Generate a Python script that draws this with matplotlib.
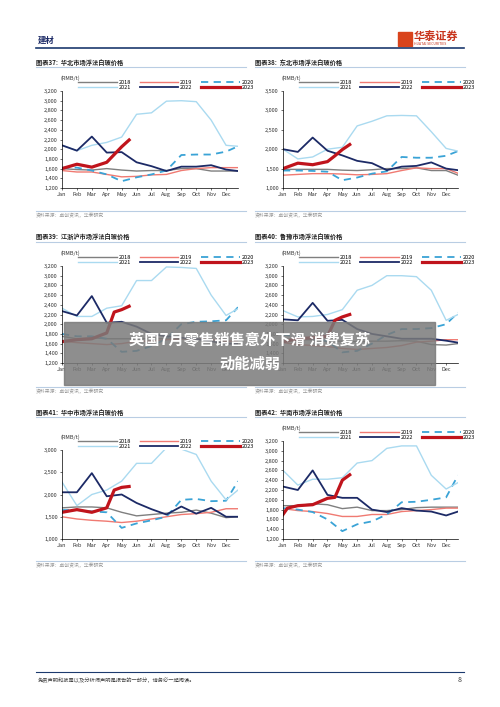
import matplotlib
matplotlib.use("Agg")
import matplotlib.pyplot as plt
from matplotlib.patches import Rectangle

plt.rcParams['font.family'] = ['Noto Sans CJK SC', 'DejaVu Sans']

months = ["Jan","Feb","Mar","Apr","May","Jun","Jul","Aug","Sep","Oct","Nov","Dec"]
x_full = [0,1,2,3,4,5,6,7,8,9,10,11,11.8]
years = ["2018","2019","2020","2021","2022","2023"]

titles = ["图表37:  华北市场浮法白玻价格", "图表38:  东北市场浮法白玻价格",
          "图表39:  江浙沪市场浮法白玻价格", "图表40:  鲁豫市场浮法白玻价格",
          "图表41:  华中市场浮法白玻价格", "图表42:  华南市场浮法白玻价格"]

north = {
 "2018":[1600,1580,1570,1600,1570,1550,1560,1560,1600,1600,1550,1550,1550],
 "2019":[1560,1530,1530,1480,1430,1440,1470,1480,1560,1600,1620,1620,1620],
 "2020":[1620,1620,1560,1480,1340,1420,1480,1560,1880,1890,1890,1950,2060],
 "2021":[2080,1970,2080,2140,2250,2720,2750,2990,3000,2980,2600,2080,2060],
 "2022":[2080,1970,2260,1930,1940,1730,1650,1550,1640,1640,1670,1580,1550],
}
north_2023 = ([0,1,2,3,4,4.5],[1600,1690,1630,1730,2050,2190])
northeast = {
 "2018":[1480,1480,1480,1480,1460,1450,1470,1500,1500,1520,1450,1450,1330],
 "2019":[1330,1350,1370,1370,1360,1340,1350,1370,1450,1520,1500,1500,1380],
 "2020":[1450,1450,1440,1420,1200,1270,1370,1430,1800,1780,1780,1830,1950],
 "2021":[2000,1750,1800,2000,2050,2600,2720,2860,2870,2860,2450,2020,1950],
 "2022":[2000,1930,2300,1960,1840,1700,1640,1460,1550,1570,1660,1500,1460],
}
northeast_2023 = ([0,0.5,1,2,3,3.5,4,4.5],[1500,1570,1640,1600,1680,1830,1990,2120])
jzh = {
 "2018":[1750,1700,1720,1700,1700,1700,1700,1700,1700,1700,1650,1600,1600],
 "2019":[1650,1620,1600,1580,1600,1650,1650,1680,1700,1700,1680,1650,1650],
 "2020":[1800,1750,1750,1700,1430,1450,1550,1700,2000,2050,2060,2080,2350],
 "2021":[2330,2160,2160,2330,2380,2900,2900,3180,3170,3150,2600,2180,2320],
 "2022":[2270,2180,2580,2030,2050,1950,1800,1750,1720,1700,1650,1600,1600],
}
jzh_2023 = ([0,1,2,3,3.5,4,4.5],[1640,1680,1700,1820,2250,2300,2370])
luyu = {
 "2018":[1700,1680,1680,1650,1650,1640,1650,1650,1660,1650,1580,1570,1600],
 "2019":[1620,1580,1560,1540,1500,1480,1500,1520,1560,1630,1650,1680,1680],
 "2020":[1780,1750,1700,1650,1420,1450,1600,1780,1900,1900,1920,2000,2240],
 "2021":[2280,2150,2160,2200,2300,2700,2800,3000,3000,2980,2700,2080,2200],
 "2022":[2100,2080,2440,2070,2090,1900,1800,1750,1700,1700,1700,1660,1620],
}
luyu_2023 = ([0,1,2,3,3.5,4,4.5],[1640,1700,1720,1750,2080,2150,2200])
central = {
 "2018":[1700,1720,1720,1700,1600,1520,1550,1580,1600,1650,1580,1480,1500],
 "2019":[1500,1450,1420,1400,1370,1400,1450,1500,1550,1570,1600,1680,1680],
 "2020":[1650,1650,1620,1600,1250,1350,1420,1500,1880,1900,1850,1860,2300],
 "2021":[2280,1750,2000,2100,2300,2700,2700,3050,3020,2900,2300,1880,2100],
 "2022":[2050,2050,2480,1960,2000,1810,1670,1550,1730,1570,1700,1500,1500],
}
central_2023 = ([0,1,2,3,3.5,4,4.5],[1600,1660,1600,1700,2100,2160,2180])
south = {
 "2018":[1880,1880,1920,1900,1820,1850,1780,1780,1800,1840,1850,1850,1850],
 "2019":[1820,1780,1760,1720,1660,1660,1700,1700,1760,1780,1800,1830,1830],
 "2020":[1830,1800,1750,1600,1360,1500,1560,1700,1950,1960,2000,2050,2500],
 "2021":[2600,2300,2420,2420,2450,2750,2800,3050,3100,3100,2500,2220,2350],
 "2022":[2270,2200,2600,2100,2040,2040,1800,1750,1830,1780,1760,1680,1760],
}
south_2023 = ([0,0.3,1,2,3,3.5,4,4.5],[1700,1830,1880,1900,2030,2050,2400,2510])

datasets = [(north, north_2023), (northeast, northeast_2023), (jzh, jzh_2023),
            (luyu, luyu_2023), (central, central_2023), (south, south_2023)]
yranges = [(1200,3200,200), (1000,3500,500), (1200,3200,200),
           (1200,3200,200), (1000,3000,500), (1200,3200,200)]

styles = {
 "2018": dict(color="#7f7f7f", lw=1.0, ls="-"),
 "2019": dict(color="#f07a72", lw=1.0, ls="-"),
 "2020": dict(color="#3aa3d6", lw=1.3, ls=(0,(4,3))),
 "2021": dict(color="#aadaf0", lw=1.0, ls="-"),
 "2022": dict(color="#1c2a66", lw=1.3, ls="-"),
 "2023": dict(color="#c0141c", lw=2.3, ls="-"),
}

W, H = 500, 707
fig = plt.figure(figsize=(5, 7.07), dpi=100)
fig.patch.set_facecolor("white")

def fx(px): return px / W
def fy(py): return 1 - py / H

# header
fig.text(fx(38), fy(40), "建材", fontsize=6, color="#1c2a66", weight="bold", va="center")
fig.add_artist(plt.Line2D([fx(36), fx(464)], [fy(48), fy(48)], color="#1c3a6e", lw=1.2))
fig.add_artist(Rectangle((fx(398), fy(46)), fx(14), 14/H, color="#d9441c"))
fig.text(fx(414), fy(36), "华泰证券", fontsize=8, color="#c8341c", weight="bold", va="center")
fig.text(fx(414), fy(44), "HUATAI SECURITIES", fontsize=2.5, color="#c8341c", va="center")

cols = [(36, 62, 238), (255, 283, 458)]
rows = [(62, 91, 188, 216), (237, 266, 363, 392), (412, 441, 539, 566)]
# chart 41 has 3000 at 450
for i, ((d, d23), (y0, y1, st)) in enumerate(zip(datasets, yranges)):
    r, c = divmod(i, 2)
    tx, left, right = cols[c]
    ty, top, bot, src = rows[r]
    if i == 4:
        top = 450
    fig.text(fx(tx), fy(ty), titles[i], fontsize=4.5, weight="bold", va="center", color="#222")
    fig.add_artist(plt.Line2D([fx(tx), fx(tx+210)], [fy(ty+5), fy(ty+5)], color="#b9cde3", lw=0.8))
    fig.add_artist(plt.Line2D([fx(tx), fx(tx+210)], [fy(src-5), fy(src-5)], color="#b9cde3", lw=0.8))
    fig.text(fx(tx), fy(src), "资料来源：卓创资讯，华泰研究", fontsize=3.5, color="#999", va="center")
    ax = fig.add_axes([fx(left), fy(bot), fx(right-left), (bot-top)/H])
    handles = []
    for yr in years[:5]:
        h, = ax.plot(x_full, d[yr], label=yr, **styles[yr])
        handles.append(h)
    h, = ax.plot(d23[0], d23[1], label="2023", **styles["2023"])
    handles.append(h)
    ax.set_xlim(0, 11.8)
    ax.set_ylim(y0, y1)
    ax.set_yticks(range(y0, y1+1, st))
    ax.set_yticklabels([f"{v:,}" for v in range(y0, y1+1, st)])
    ax.set_xticks(range(12))
    ax.set_xticklabels(months)
    ax.tick_params(labelsize=4, length=1.5, width=0.5, pad=1.5, colors="#333")
    for s in ["top", "right"]:
        ax.spines[s].set_visible(False)
    for s in ["left", "bottom"]:
        ax.spines[s].set_linewidth(0.5)
    ax.text(-0.1, y1 + (y1-y0)*(10/(bot-top)) , "(RMB/t)", fontsize=4, ha="left", va="bottom", color="#333",
            transform=ax.transData)
    order = [0, 3, 1, 4, 2, 5]
    leg = ax.legend([handles[k] for k in order], [years[k] for k in order], ncol=3,
                    loc="lower left", bbox_to_anchor=(0.08, 0.985), frameon=False,
                    fontsize=4, handlelength=7, columnspacing=1.5, labelspacing=0.05,
                    handletextpad=0.3, borderaxespad=0, markerfirst=True)

# footer
fig.add_artist(plt.Line2D([fx(36), fx(464)], [fy(672), fy(672)], color="#1c3a6e", lw=0.8))
fig.text(fx(38), fy(680), "免责声明和披露以及分析师声明是报告的一部分，请务必一起阅读。", fontsize=3.8,
         color="#444", va="center", style="italic")
fig.text(fx(462), fy(680), "8", fontsize=5, color="#333", va="center", ha="right")

# overlay
fig.add_artist(Rectangle((fx(64), fy(385)), fx(371), 63/H, color="#7a7a7a", alpha=0.85))
fig.text(fx(250), fy(339), "英国7月零售销售意外下滑 消费复苏", fontsize=11, color="white",
         weight="bold", ha="center", va="center")
fig.text(fx(250), fy(364), "动能减弱", fontsize=11, color="white", weight="bold", ha="center", va="center")

fig.savefig("out.png", dpi=100)
